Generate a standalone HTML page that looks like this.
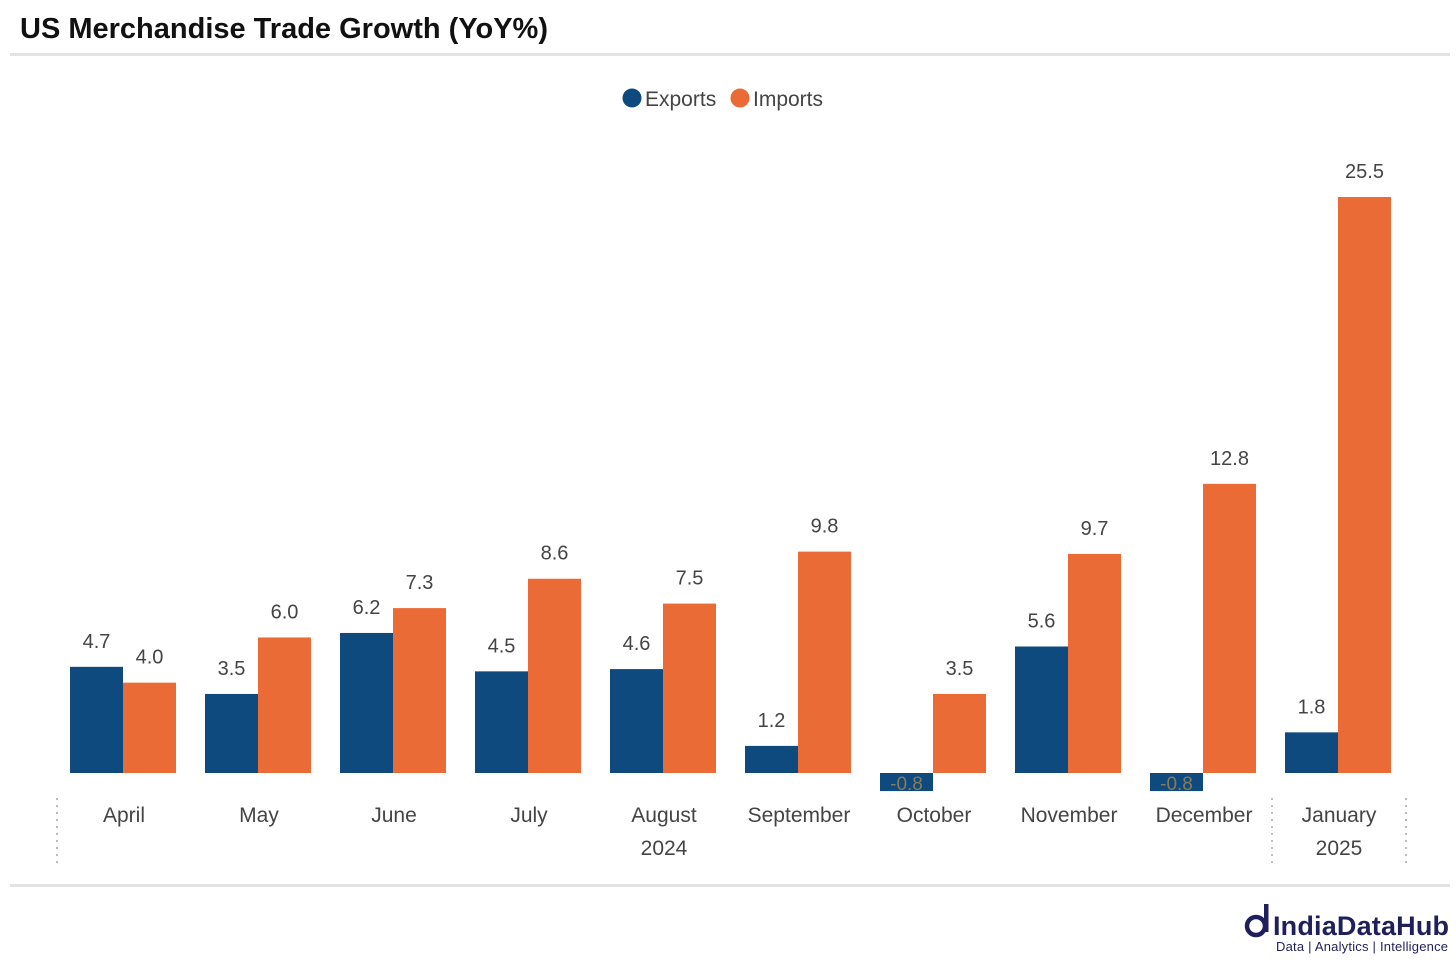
<!DOCTYPE html>
<html><head><meta charset="utf-8"><style>
body{margin:0;background:#fff;width:1456px;height:963px;overflow:hidden;font-family:"Liberation Sans",sans-serif}
</style></head><body>
<svg id="c" width="1456" height="963" xmlns="http://www.w3.org/2000/svg">
<text x="20" y="38" font-size="29" font-weight="bold" fill="#111">US Merchandise Trade Growth (YoY%)</text>
<rect x="10" y="53" width="1440" height="3" fill="#e3e3e3"/>
<rect x="10" y="884" width="1440" height="3" fill="#e3e3e3"/>
<g>
<circle cx="632" cy="98" r="9.5" fill="#0e4a7e"/>
<text x="645" y="106" font-size="21" fill="#444">Exports</text>
<circle cx="740" cy="98" r="9.5" fill="#ea6b35"/>
<text x="753" y="106" font-size="21" fill="#444">Imports</text>
</g>
<g id="bars"></g>
<g stroke="#bbb" stroke-width="2" stroke-dasharray="2,5">
<line x1="57" y1="798" x2="57" y2="868"/><line x1="1272" y1="798" x2="1272" y2="868"/><line x1="1406" y1="798" x2="1406" y2="868"/>
</g>
<text x="664" y="855" font-size="21" fill="#444" text-anchor="middle">2024</text>
<text x="1339" y="855" font-size="21" fill="#444" text-anchor="middle">2025</text>
<g>
<circle cx="1256" cy="926" r="9" fill="none" stroke="#1f1f5c" stroke-width="4.5"/>
<rect x="1264" y="904" width="4.5" height="28" fill="#1f1f5c"/>
<text x="1273" y="935" font-size="27" font-weight="bold" fill="#1f1f5c" textLength="176">IndiaDataHub</text>
<text x="1276" y="951" font-size="13" fill="#1f1f5c" textLength="172">Data | Analytics | Intelligence</text>
</g>
</svg>
<script>
const categories=["April","May","June","July","August","September","October","November","December","January"];
const exportsVals=[4.7,3.5,6.2,4.5,4.6,1.2,-0.8,5.6,-0.8,1.8];
const importsVals=[4.0,6.0,7.3,8.6,7.5,9.8,3.5,9.7,12.8,25.5];
const ns="http://www.w3.org/2000/svg";
const g=document.getElementById("bars");
const y0=773,k=576/25.5;
const yv=v=>y0-v*k;
const xc=i=>123+i*135;
function mk(t,a){const e=document.createElementNS(ns,t);for(const n in a)e.setAttribute(n,a[n]);g.appendChild(e);return e;}
categories.forEach((c,i)=>{
 [[exportsVals[i],"#0e4a7e",-53,"export"],[importsVals[i],"#ea6b35",0,"import"]].forEach(([v,col,off,nm])=>{
  const top=Math.min(yv(v),y0),h=Math.abs(yv(v)-y0);
  const r=mk("rect",{x:xc(i)+off,y:top,width:53,height:h,fill:col});
  
  
  const t=mk("text",{x:xc(i)+off+26.5,y:v>=0?top-19:y0+17,"font-size":v>=0?20:19,fill:v>=0?"#444":"#8a7a55","text-anchor":"middle"});
  t.textContent=v.toFixed(1);
  
  
 });
 const l=mk("text",{x:xc(i)+1,y:822,"font-size":21,fill:"#444","text-anchor":"middle"});
 l.textContent=c;
 
 
});
</script>
</body></html>
